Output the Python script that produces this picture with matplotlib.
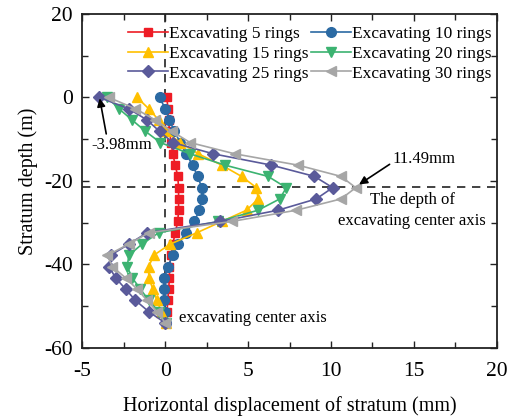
import matplotlib

matplotlib.use("Agg")
import matplotlib.pyplot as plt  # noqa: E402

plt.rcParams["font.family"] = ["Liberation Serif", "DejaVu Serif"]
plt.rcParams["axes.unicode_minus"] = False

depth = [0, -2.7, -5.4, -8.1, -10.8, -13.5, -16.2, -18.9, -21.6, -24.3, -27.0,
         -29.7, -32.4, -35.1, -37.8, -40.5, -43.2, -45.9, -48.6, -51.3, -54.0]

rings_5 = [0.1, 0.15, 0.2, 0.25, 0.35, 0.45, 0.6, 0.75, 0.8, 0.8, 0.8,
           0.75, 0.6, 0.45, 0.35, 0.25, 0.25, 0.2, 0.15, 0.1, 0.05]
rings_10 = [-0.35, 0.0, 0.25, 0.55, 0.9, 1.25, 1.65, 1.95, 2.2, 2.2, 2.05,
            1.75, 1.25, 0.75, 0.45, 0.15, -0.05, -0.1, -0.1, 0.0, 0.05]
rings_15 = [-1.7, -1.0, -0.4, 0.0, 0.9, 2.0, 3.4, 4.6, 5.5, 5.6, 4.9,
            3.4, 1.9, 0.3, -0.7, -1.0, -1.0, -0.75, -0.5, -0.25, 0.05]
rings_20 = [-3.5, -2.8, -2.0, -1.2, -0.3, 1.5, 3.6, 6.2, 7.3, 6.9, 5.6,
            3.2, -0.4, -1.4, -2.2, -2.3, -2.0, -1.5, -1.0, -0.4, 0.05]
rings_25 = [-3.98, -2.2, -1.1, -0.35, 0.45, 2.9, 6.4, 9.0, 10.1, 9.1, 6.8,
            3.3, -1.1, -2.2, -3.3, -3.4, -3.0, -2.4, -1.8, -1.0, 0.0]
rings_30 = [-3.4, -1.8, -0.6, 0.4, 1.5, 4.2, 8.0, 10.6, 11.49, 10.6, 7.9,
            4.0, -1.0, -2.2, -3.5, -3.2, -2.4, -1.7, -1.1, -0.5, 0.0]

labels = ["Excavating 5 rings", "Excavating 10 rings", "Excavating 15 rings",
          "Excavating 20 rings", "Excavating 25 rings", "Excavating 30 rings"]
colors = ["#ee1c25", "#2b6aa3", "#ffc000", "#3cb371", "#5a5a9a", "#a6a6a6"]
markers = ["s", "o", "^", "v", "D", "<"]
sizes = [6, 7, 7, 7, 6, 7]
center_depth = -21.4

fig = plt.figure(figsize=(5.09, 4.18), dpi=100)
ax = fig.add_axes([0.162, 0.1675, 0.814, 0.799])

ax.plot([0, 0], [20, -55], ls=(0, (5, 4)), color="#222222", lw=1.2, zorder=1)
ax.axhline(center_depth, ls=(0, (5, 4)), color="#222222", lw=1.2, zorder=1)

series = [rings_5, rings_10, rings_15, rings_20, rings_25, rings_30]
handles = []
for values, label, color, marker, ms in zip(series, labels, colors, markers, sizes):
    (h,) = ax.plot(values, depth, color=color, marker=marker, markersize=ms,
                   lw=1.2, label=label, zorder=3)
    handles.append(h)

order = [0, 2, 4, 1, 3, 5]
ax.legend([handles[i] for i in order], [labels[i] for i in order], ncol=2,
          loc="upper left", bbox_to_anchor=(0.08, 1.0), frameon=False,
          fontsize=12.5, handlelength=2.3, handletextpad=0.1,
          columnspacing=0.1, labelspacing=0.2, borderaxespad=0.3)

ax.annotate("-3.98mm", xy=(-3.96, -0.2), xytext=(-4.45, -11.3),
            fontsize=12, va="center", ha="left",
            arrowprops=dict(arrowstyle="-|>", color="black", lw=1.2,
                            mutation_scale=12, shrinkA=0, shrinkB=0,
                            relpos=(0.25, 1.0)))
ax.annotate("11.49mm", xy=(11.55, -21.2), xytext=(13.7, -14.8),
            fontsize=12, va="center", ha="left",
            arrowprops=dict(arrowstyle="-|>", color="black", lw=1.2,
                            mutation_scale=12, shrinkA=0, shrinkB=2,
                            relpos=(0.0, 0.3)))
ax.text(14.9, -27.1, "The depth of\nexcavating center axis", fontsize=12,
        ha="center", va="center", linespacing=1.4)
ax.text(0.8, -52.8, "excavating center axis", fontsize=12, ha="left", va="center")

ax.set_xlim(-5, 20)
ax.set_ylim(-60, 20)
ax.set_xticks([-5, 0, 5, 10, 15, 20])
ax.set_xticks([-2.5, 2.5, 7.5, 12.5, 17.5], minor=True)
ax.set_yticks([-60, -40, -20, 0, 20])
ax.set_yticks([-50, -30, -10, 10], minor=True)
ax.tick_params(which="both", direction="in", top=True, right=True,
               labelsize=15.5, width=1.0, color="#222222", pad=7)
ax.tick_params(axis="x", which="both", pad=10)
ax.tick_params(which="major", length=5)
ax.tick_params(which="minor", length=4)
for spine in ax.spines.values():
    spine.set_linewidth(1.3)
    spine.set_color("#222222")

ax.set_xlabel("Horizontal displacement of stratum (mm)", fontsize=14.5, labelpad=11)
ax.set_ylabel("Stratum depth (m)", fontsize=14.5, labelpad=4)

fig.savefig("out.png", dpi=100)
